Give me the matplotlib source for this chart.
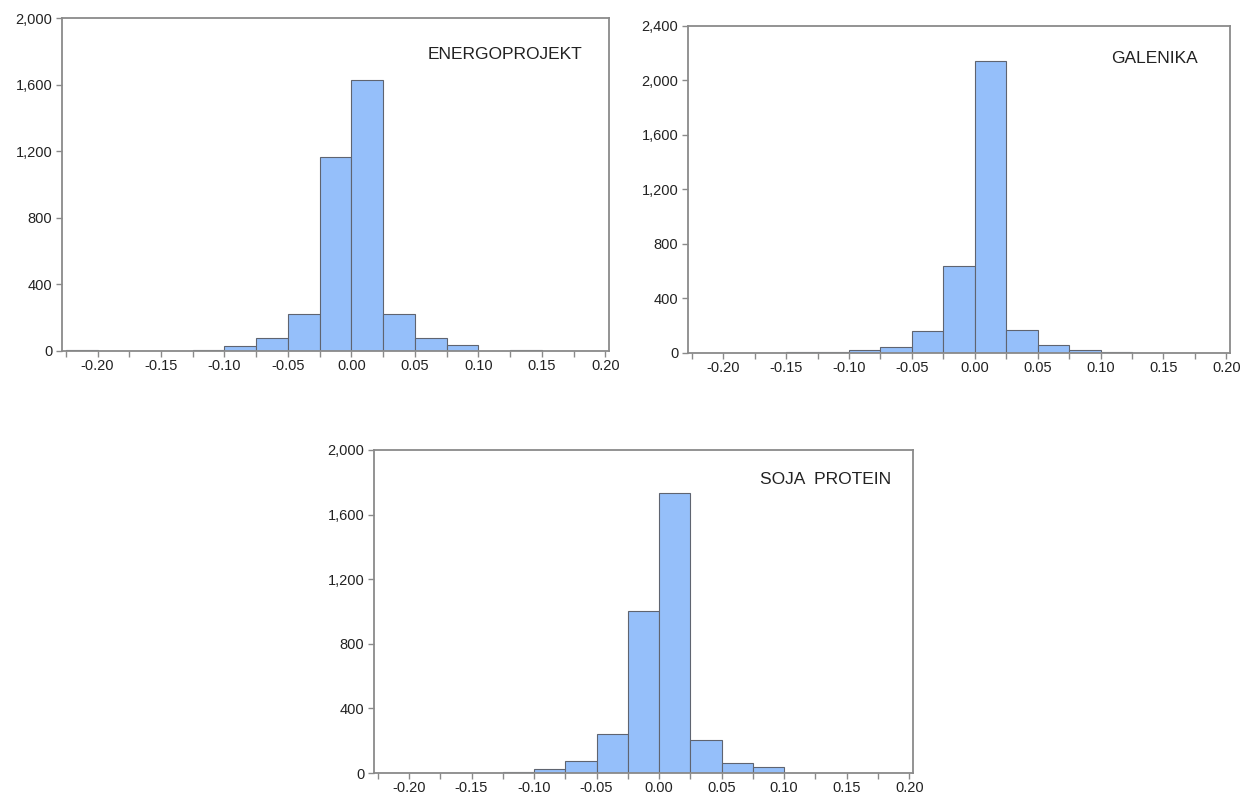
import numpy as np
import matplotlib
matplotlib.use("Agg")
import matplotlib.pyplot as plt
from matplotlib.ticker import MultipleLocator, FuncFormatter

plt.rcParams["font.family"] = ["Liberation Sans", "DejaVu Sans"]

# histogram bins: width 0.025, starting at -0.225
bin_width = 0.025
bin_left = np.round(np.arange(-0.225, 0.2, bin_width), 3)

energoprojekt = [3, 0, 0, 2, 8, 30, 78, 223, 1163, 1627, 223, 78, 35, 2, 3, 1, 1]
galenika = [3, 0, 0, 5, 8, 25, 45, 160, 640, 2140, 170, 60, 25, 5, 3, 2, 1]
soja_protein = [3, 0, 1, 3, 8, 25, 75, 242, 1006, 1733, 205, 62, 37, 3, 2, 1, 0]

panels = [
    ("ENERGOPROJEKT", energoprojekt, 2000, [0.0495, 0.5596, 0.437, 0.4178], (0.952, 0.889)),
    ("GALENIKA", galenika, 2400, [0.5495, 0.5571, 0.433, 0.4103], (0.94, 0.902)),
    ("SOJA  PROTEIN", soja_protein, 2000, [0.2987, 0.0301, 0.4305, 0.4053], (0.96, 0.91)),
]

fig = plt.figure(figsize=(12.52, 7.97), dpi=100)

for name, counts, ymax, rect, txt in panels:
    ax = fig.add_axes(rect)
    ax.bar(bin_left, counts, width=bin_width, align="edge",
           color="#95BFFA", edgecolor="#5f6470", linewidth=0.8)
    ax.set_xlim(-0.228, 0.203)
    ax.set_ylim(0, ymax)
    ax.xaxis.set_major_locator(MultipleLocator(0.05))
    ax.xaxis.set_minor_locator(MultipleLocator(0.025))
    ax.xaxis.set_major_formatter(FuncFormatter(lambda v, p: f"{v:.2f}"))
    ax.yaxis.set_major_locator(MultipleLocator(400))
    ax.yaxis.set_major_formatter(FuncFormatter(lambda v, p: f"{int(v):,}"))
    for s in ax.spines.values():
        s.set_color("#8a8a8a")
        s.set_linewidth(1.3)
    ax.tick_params(axis="both", which="both", direction="out", length=4,
                   width=1, color="#8a8a8a", labelsize=10.5, labelcolor="#222222")
    ax.tick_params(axis="x", pad=2)
    ax.tick_params(axis="y", pad=3)
    ax.text(txt[0], txt[1], name, transform=ax.transAxes, ha="right", va="center",
            fontsize=12.5, color="#222222")

plt.savefig("out.png", dpi=100)
